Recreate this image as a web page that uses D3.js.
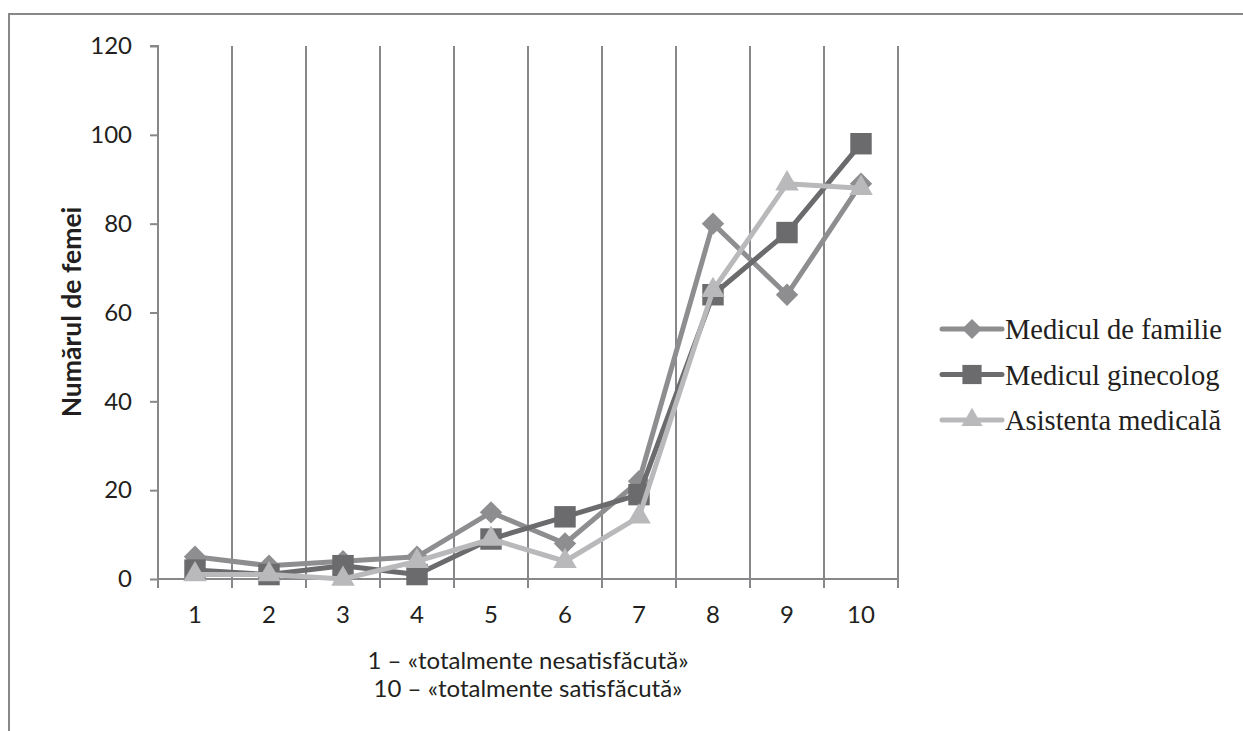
<!DOCTYPE html>
<html><head><meta charset="utf-8">
<script src="https://cdn.jsdelivr.net/npm/d3@7"></script>
<style>body{margin:0;background:#fff}svg{display:block}</style>
</head><body>
<svg id="c" width="1243" height="731"></svg>
<script>
const categories = ["1","2","3","4","5","6","7","8","9","10"];
const seriesNames = ["Medicul de familie","Medicul ginecolog","Asistenta medicală"];
const familie = [5,3,4,5,15,8,22,80,64,89];
const ginecolog = [2,1,3,1,9,14,19,64,78,98];
const asistenta = [1,1,0,4,9,4,14,65,89,88];
const yTicks = [0,20,40,60,80,100,120];

(function(){
const series = [
  {name: seriesNames[0], values: familie, color: "#8e8e90", type: "diamond"},
  {name: seriesNames[1], values: ginecolog, color: "#6b6b6d", type: "square"},
  {name: seriesNames[2], values: asistenta, color: "#b9b9bb", type: "triangle"}
];
function sym(type, scale){
  if (type==="diamond") return {d: d3.symbol().type(d3.symbolSquare).size(250*scale)(), rot: 45};
  if (type==="square") return {d: d3.symbol().type(d3.symbolSquare).size(460*scale)(), rot: 0};
  return {d: d3.symbol().type(d3.symbolTriangle).size(240*scale)(), rot: 0};
}

const svg = d3.select("#c");
const pL = 158, pR = 898, pT = 46, pB = 579;
const x = d3.scaleBand().domain(categories).range([pL, pR]);
const y = d3.scaleLinear().domain([0,120]).range([pB, pT]);
const axisCol = "#88888a";
const tickFont = "Lato, 'Open Sans', sans-serif";
const txtCol = "#231f20";

// frame
svg.append("line").attr("x1",8).attr("x2",1243).attr("y1",14).attr("y2",14).attr("stroke",axisCol).attr("stroke-width",2);
svg.append("line").attr("x1",9).attr("x2",9).attr("y1",13).attr("y2",731).attr("stroke",axisCol).attr("stroke-width",2);

// vertical gridlines at category boundaries
const bounds = categories.slice(1).map(c => x(c)).concat([pR]);
svg.append("g").selectAll("line").data(bounds).join("line")
  .attr("x1", d=>d).attr("x2", d=>d).attr("y1", pT).attr("y2", pB)
  .attr("stroke", axisCol).attr("stroke-width", 2);

// y axis
const yAxis = d3.axisLeft(y).tickValues(yTicks).tickSize(8).tickPadding(18);
const gy = svg.append("g").attr("transform",`translate(${pL},0)`).call(yAxis);
gy.select(".domain").attr("stroke",axisCol).attr("stroke-width",2).attr("d",`M-8,${pT}H0V${pB}`);
gy.selectAll(".tick line").attr("stroke",axisCol).attr("stroke-width",2);
gy.selectAll(".tick text").attr("font-family",tickFont).attr("font-size",24).attr("fill",txtCol);

// x axis
const xAxis = d3.axisBottom(x).tickSize(0).tickPadding(27);
const gx = svg.append("g").attr("transform",`translate(0,${pB})`).call(xAxis);
gx.select(".domain").attr("stroke",axisCol).attr("stroke-width",2).attr("d",`M${pL},0H${pR}`);
gx.selectAll(".tick text").attr("font-family",tickFont).attr("font-size",24).attr("fill",txtCol).attr("dy","0.71em");
svg.append("g").selectAll("line").data([pL].concat(bounds)).join("line")
  .attr("x1", d=>d).attr("x2", d=>d).attr("y1", pB).attr("y2", pB+9)
  .attr("stroke", axisCol).attr("stroke-width", 2);

// axis titles
svg.append("text").attr("transform","translate(81,312) rotate(-90)")
  .attr("text-anchor","middle").attr("font-family",tickFont).attr("font-weight","bold")
  .attr("font-size",26.5).attr("fill",txtCol).text("Numărul de femei");
svg.append("text").attr("x",528).attr("y",669).attr("text-anchor","middle")
  .attr("font-family",tickFont).attr("font-size",24).attr("fill",txtCol).text("1 – «totalmente nesatisfăcută»");
svg.append("text").attr("x",528).attr("y",697).attr("text-anchor","middle")
  .attr("font-family",tickFont).attr("font-size",24).attr("fill",txtCol).text("10 – «totalmente satisfăcută»");

// lines
const cx = c => x(c) + x.bandwidth()/2;
const line = d3.line().x((d,i)=>cx(categories[i])).y(d=>y(d));
series.forEach(s => {
  svg.append("path").attr("d", line(s.values)).attr("fill","none")
    .attr("stroke", s.color).attr("stroke-width", 5).attr("stroke-linejoin","round");
  const m = sym(s.type, 1);
  svg.append("g").selectAll("path").data(s.values).join("path")
    .attr("transform",(d,i)=>`translate(${cx(categories[i])},${y(d)}) rotate(${m.rot})`)
    .attr("d", m.d).attr("fill", s.color);
});

// legend
const lg = svg.append("g");
series.forEach((s,i) => {
  const ly = 329 + i*45.5;
  lg.append("line").attr("x1",942).attr("x2",1002).attr("y1",ly).attr("y2",ly)
    .attr("stroke",s.color).attr("stroke-width",5).attr("stroke-linecap","round");
  const m = sym(s.type, 0.8);
  lg.append("path").attr("transform",`translate(972,${ly}) rotate(${m.rot})`)
    .attr("d", m.d).attr("fill",s.color);
  lg.append("text").attr("x",1005).attr("y",ly+10).attr("font-family","'Liberation Serif', 'Times New Roman', serif")
    .attr("font-size",28.5).attr("fill",txtCol).text(s.name);
});
})();
</script>
</body></html>
